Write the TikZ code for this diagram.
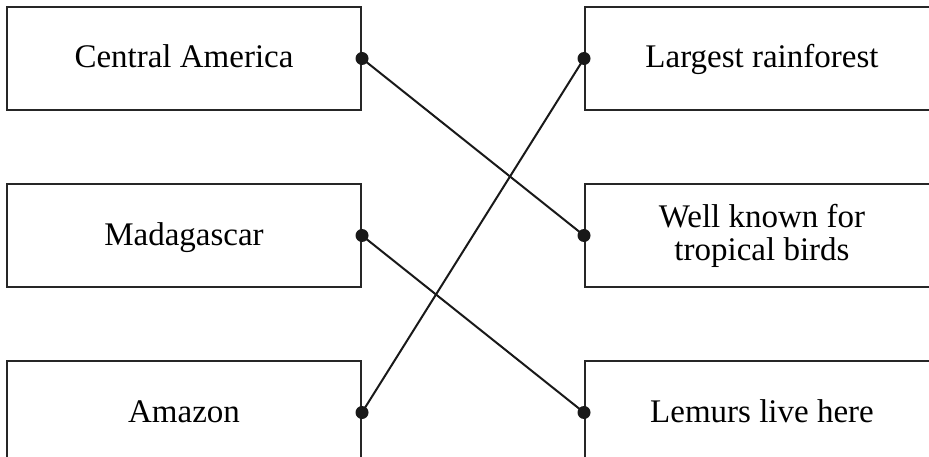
\documentclass[tikz,border=0pt]{standalone}
\usepackage{fontspec}
\setmainfont{Liberation Serif}
\usetikzlibrary{positioning}

\begin{document}
\begin{tikzpicture}[
  x=1pt,y=-1pt,
  font=\fontsize{33}{33}\selectfont,
  box/.style={draw=black!85,line width=2pt,minimum width=354pt,minimum height=103pt,
              inner sep=0pt,align=center},
  one/.style={box,text height=24pt,text depth=5pt},
  link/.style={black!90,line width=2pt},
  dot/.style={fill=black!90}
]
\clip (0,0) rectangle (929,457);
\node[one] (ca) at (184,58.5) {Central America};
\node[one,below=72pt of ca] (mad) {Madagascar};
\node[one,below=72pt of mad] (amz) {Amazon};
\node[one,right=222pt of ca] (rain) {Largest rainforest};
\node[box,right=222pt of mad] (birds) {Well known for\\tropical birds};
\node[one,right=222pt of amz] (lem) {Lemurs live here};
% matching lines, each ends on a dot at the box edge
\draw[link] (ca.east) -- (birds.west);
\draw[link] (mad.east) -- (lem.west);
\draw[link] (amz.east) -- (rain.west);
\foreach \n in {ca,mad,amz} \fill[dot] (\n.east) circle (6.5);
\foreach \n in {rain,birds,lem} \fill[dot] (\n.west) circle (6.5);
\end{tikzpicture}
\end{document}
